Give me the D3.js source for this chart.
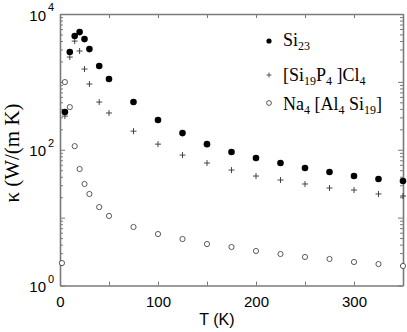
<!DOCTYPE html>
<html>
<head>
<meta charset="utf-8">
<script src="https://cdn.jsdelivr.net/npm/d3@7"></script>
<style>
  body { margin: 0; background: #fff; }
  svg { display: block; }
  .axis path, .axis line { stroke: #7a7a7a; }
  .axis path { stroke-width: 1.6; }
  .axis text { font-family: "Liberation Sans", Arial, sans-serif; font-size: 15px; fill: #000; }
</style>
</head>
<body>
<svg id="chart" width="407" height="332"></svg>
<script>
// temperatures (K) and thermal conductivities (W/(m K))
var T_main = [5, 10, 15, 20, 25, 30, 40, 50, 75, 100, 125, 150, 175, 200, 225, 250, 275, 300, 325, 350];
var si23 = [359, 2750, 4730, 5410, 4270, 3040, 1710, 1100, 504, 274, 176, 121, 92.5, 75.5, 63.7, 53.8, 47, 41, 37, 34.6];
var si19p4cl4 = [313, 2320, 3990, 2850, 1545, 929, 504, 348, 188, 121, 83.5, 63.7, 50.2, 41, 35.8, 31.3, 27.3, 25.5, 22.3, 20.8];
var T_na = [2, 5, 10, 15, 20, 25, 30, 40, 50, 75, 100, 125, 150, 175, 200, 225, 250, 275, 300, 325, 350];
var na4al4si19 = [2.14, 993, 425, 113, 52, 31.3, 22.3, 14.3, 10.6, 7.28, 5.73, 4.84, 4.08, 3.69, 3.22, 2.91, 2.63, 2.46, 2.22, 2.07, 1.94];

var xTicks = [0, 50, 100, 150, 200, 250, 300, 350];
var xLabels = [0, 100, 200, 300];
var yDecades = [1, 100, 10000];

var svg = d3.select("#chart");
var mLeft = 60, mRight = 403, mTop = 14, mBottom = 285.5;

var x = d3.scaleLinear().domain([0, 350]).range([mLeft, mRight]);
var y = d3.scaleLog().domain([1, 10000]).range([mBottom, mTop]);

// frame axes, ticks pointing inward
svg.append("g").attr("class", "axis")
    .attr("transform", "translate(0," + mBottom + ")")
    .call(d3.axisBottom(x).tickValues(xTicks).tickSize(-4).tickSizeOuter(0).tickPadding(11)
        .tickFormat(function(d) { return xLabels.indexOf(d) >= 0 ? d : ""; }));

svg.append("g").attr("class", "axis")
    .attr("transform", "translate(0," + mTop + ")")
    .call(d3.axisTop(x).tickValues(xTicks).tickSize(-4).tickSizeOuter(0).tickFormat(""));

var yTicks = y.ticks();
function isDecade(d) { return Math.abs(Math.log10(d) - Math.round(Math.log10(d))) < 1e-9; }

var gl = svg.append("g").attr("class", "axis")
    .attr("transform", "translate(" + mLeft + ",0)")
    .call(d3.axisLeft(y).tickValues(yTicks).tickSize(-3).tickSizeOuter(0).tickFormat(""));
gl.selectAll(".tick line").attr("x2", function(d) { return isDecade(d) ? 5 : 3; });

var gr = svg.append("g").attr("class", "axis")
    .attr("transform", "translate(" + mRight + ",0)")
    .call(d3.axisRight(y).tickValues(yTicks).tickSize(-3).tickSizeOuter(0).tickFormat(""));
gr.selectAll(".tick line").attr("x2", function(d) { return isDecade(d) ? -5 : -3; });

// decade labels 10^n
svg.append("g").selectAll("text")
    .data(yDecades)
  .enter().append("text")
    .attr("x", 46)
    .attr("y", function(d) { return y(d) + 6.5; })
    .attr("text-anchor", "end")
    .style("font-family", "'Liberation Sans', Arial, sans-serif")
    .style("font-size", "15px")
    .text("10");
svg.append("g").selectAll("text")
    .data(yDecades)
  .enter().append("text")
    .attr("x", 48)
    .attr("y", function(d) { return y(d) - 3; })
    .style("font-family", "'Liberation Sans', Arial, sans-serif")
    .style("font-size", "11px")
    .text(function(d) { return Math.round(Math.log10(d)); });

// axis titles
svg.append("text")
    .attr("x", 217).attr("y", 325)
    .attr("text-anchor", "middle")
    .style("font-family", "'Liberation Sans', Arial, sans-serif")
    .style("font-size", "16px")
    .text("T (K)");

svg.append("text")
    .attr("transform", "translate(19,153) rotate(-90)")
    .attr("text-anchor", "middle")
    .style("font-family", "'Liberation Serif', 'Times New Roman', serif")
    .style("font-size", "21px")
    .text("κ (W/(m K)");

// data marks
var plot = svg.append("g");
plot.selectAll(".na").data(T_na)
  .enter().append("circle")
    .attr("cx", function(d) { return x(d); })
    .attr("cy", function(d, i) { return y(na4al4si19[i]); })
    .attr("r", 2.6)
    .attr("fill", "#fff").attr("stroke", "#333").attr("stroke-width", 0.8);

plot.selectAll(".si19").data(T_main)
  .enter().append("path")
    .attr("transform", function(d, i) { return "translate(" + x(d) + "," + y(si19p4cl4[i]) + ")"; })
    .attr("d", "M-3,0H3M0,-3V3")
    .attr("stroke", "#333").attr("stroke-width", 0.9);

plot.selectAll(".si23").data(T_main)
  .enter().append("circle")
    .attr("cx", function(d) { return x(d); })
    .attr("cy", function(d, i) { return y(si23[i]); })
    .attr("r", 3.3)
    .attr("fill", "#000");

// legend
var legend = svg.append("g");
var legFont = "'Liberation Serif', 'Times New Roman', serif";
legend.append("circle").attr("cx", 269).attr("cy", 41).attr("r", 2.6).attr("fill", "#000");
legend.append("path").attr("d", "M266.5,75H271.5M269,72.5V77.5").attr("stroke", "#333").attr("stroke-width", 0.8);
legend.append("circle").attr("cx", 269).attr("cy", 103).attr("r", 2.4).attr("fill", "#fff").attr("stroke", "#333").attr("stroke-width", 0.8);

function legText(yPos, parts) {
  var t = legend.append("text").attr("x", 283).attr("y", yPos)
      .style("font-family", legFont).style("font-size", "18px");
  parts.forEach(function(p) {
    var s = t.append("tspan").text(p[0]);
    if (p[1]) s.style("font-size", "12px").attr("dy", 4);
    else s.attr("dy", p[2] || 0);
  });
}
legText(46, [["Si"], ["23", true]]);
legText(81, [["[Si"], ["19", true], ["P", false, -4], ["4", true], [" ]Cl", false, -4], ["4", true]]);
legText(110, [["Na"], ["4", true], [" [Al", false, -4], ["4", true], [" Si", false, -4], ["19", true], ["]", false, -4]]);
</script>
</body>
</html>
